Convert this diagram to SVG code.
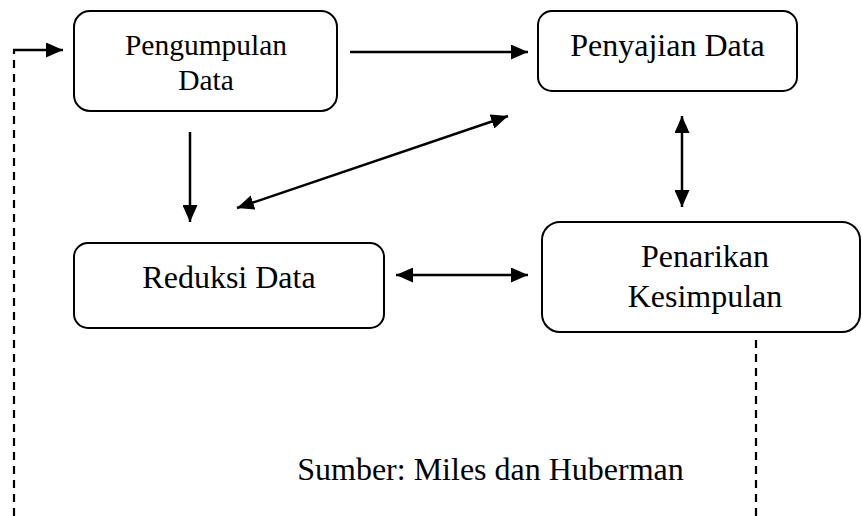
<svg xmlns="http://www.w3.org/2000/svg" width="862" height="516" viewBox="0 0 862 516">
  <style>
    .box { fill: #ffffff; stroke: #000000; stroke-width: 2; }
    .lbl { font-family: "Liberation Serif", "Times New Roman", serif; fill: #000000; text-anchor: middle; }
    .ln { stroke: #000000; stroke-width: 2.5; fill: none; }
    .dash { stroke: #000000; stroke-width: 2.2; fill: none; stroke-dasharray: 8 6; }
  </style>
  <defs>
    <marker id="ah" markerUnits="userSpaceOnUse" markerWidth="18" markerHeight="15" refX="17" refY="7.5" orient="auto-start-reverse">
      <path d="M0,0 L17,7.5 L0,15 z" fill="#000000"/>
    </marker>
  </defs>
  <rect width="862" height="516" fill="#ffffff"/>

  <g id="connectors">
    <line class="ln" x1="350" y1="52" x2="528" y2="52" marker-end="url(#ah)"/>
    <line class="ln" x1="190" y1="132" x2="190" y2="222" marker-end="url(#ah)"/>
    <line class="ln" x1="237" y1="208" x2="508" y2="116" marker-start="url(#ah)" marker-end="url(#ah)"/>
    <line class="ln" x1="682" y1="116" x2="682" y2="207" marker-start="url(#ah)" marker-end="url(#ah)"/>
    <line class="ln" x1="396" y1="275" x2="528" y2="275" marker-start="url(#ah)" marker-end="url(#ah)"/>
    <line class="dash" x1="14" y1="516" x2="14" y2="50"/>
    <line class="ln" x1="13" y1="50" x2="63" y2="50" marker-end="url(#ah)"/>
    <line class="dash" x1="756" y1="340" x2="756" y2="516"/>
  </g>

  <g id="pengumpulan">
    <rect class="box" x="74" y="11" width="263" height="100" rx="16"/>
    <text class="lbl" x="206" y="55" font-size="29.5">Pengumpulan</text>
    <text class="lbl" x="206" y="90" font-size="29.5">Data</text>
  </g>

  <g id="penyajian">
    <rect class="box" x="538" y="11" width="259" height="80" rx="14"/>
    <text class="lbl" x="667.5" y="56" font-size="32">Penyajian Data</text>
  </g>

  <g id="reduksi">
    <rect class="box" x="74" y="243" width="310" height="85" rx="14"/>
    <text class="lbl" x="229" y="288" font-size="32">Reduksi Data</text>
  </g>

  <g id="penarikan">
    <rect class="box" x="542" y="222" width="318" height="110" rx="18"/>
    <text class="lbl" x="705" y="267" font-size="32">Penarikan</text>
    <text class="lbl" x="705" y="307" font-size="32">Kesimpulan</text>
  </g>

  <g id="sumber">
    <text class="lbl" x="490.5" y="480" font-size="32">Sumber: Miles dan Huberman</text>
  </g>
</svg>
